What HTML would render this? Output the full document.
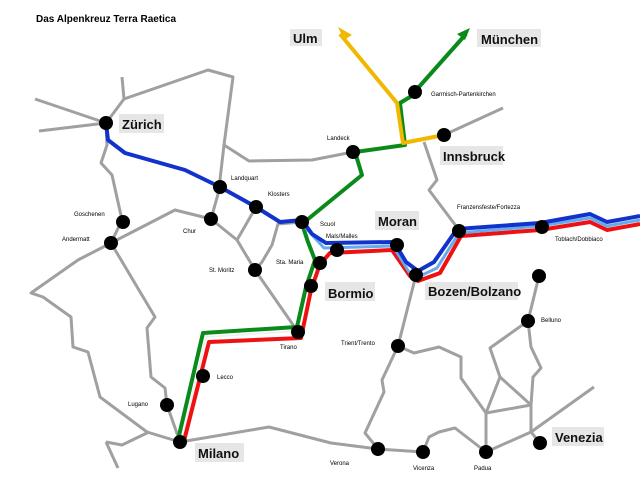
<!DOCTYPE html>
<html><head><meta charset="utf-8"><style>
html,body{margin:0;padding:0;background:#fff;}
svg{display:block;}
text{font-family:"Liberation Sans",sans-serif;}
.s{font-size:6px;fill:#000;}
.b{font-size:13px;font-weight:bold;fill:#111;}
</style></head><body>
<svg width="640" height="480" viewBox="0 0 640 480" xmlns="http://www.w3.org/2000/svg">
<rect width="640" height="480" fill="#fff"/>
<text x="36" y="22" style="font-size:10px;font-weight:bold">Das Alpenkreuz Terra Raetica</text>
<g fill="none" stroke="#a0a0a0" stroke-width="3" stroke-linejoin="round">
<polyline points="35,99 106,123 39,131"/>
<polyline points="106,123 124,99 122,77"/>
<polyline points="124,99 208,70 233,77 224,145 219,188"/>
<polyline points="224,145 249,161 312,160 353,152"/>
<polyline points="106,123 107,145 101,163 112,175 122,220 111,243"/>
<polyline points="111,243 175,210 211,219 220,187"/>
<polyline points="211,219 237,240 255,270 298,332"/>
<polyline points="256,207 237,240"/>
<polyline points="302,222 278,224 272,245 262,262 255,270"/>
<polyline points="111,243 78,260 31,293 43,297 71,317 73,347 88,352 100,397 147,432 180,442"/>
<polyline points="106,442 122,445 149,432"/>
<polyline points="106,442 118,468"/>
<polyline points="111,243 155,317 147,328 151,377 165,388 167,405 180,442"/>
<polyline points="180,442 269,427 331,443 378,449 423,452 429,437 439,432 455,428 486,452"/>
<polyline points="378,449 365,433 384,392 382,380 398,346 416,275"/>
<polyline points="398,346 414,353 439,347 461,357 461,378 486,413 486,452"/>
<polyline points="486,413 531,405 500,377 486,413"/>
<polyline points="500,377 490,348 528,321 539,276"/>
<polyline points="528,321 531,347 541,368 533,377 531,405 531,432 594,387"/>
<polyline points="486,452 531,432 540,443"/>
<polyline points="444,135 503,108"/>
<polyline points="424,142 437,180 429,190 459,230"/>
</g>
<g fill="none" stroke-width="4" stroke-linejoin="round">
<polyline stroke="#0a8a1a" points="178,440 203,333 297,327 306,287 315,260 308,242 302,224 362,175 355,152 405,145 400,103 410,97 466,34"/>
<polyline stroke="#f0f0f0" stroke-width="2" points="182,440 206,337 299,331"/>
<polyline stroke="#f0b800" points="340,34 397,103 403,143 444,135"/>
<polyline stroke="#ee1111" points="184,441 209,342 301,338 311,290 320,264 330,253 392,250 410,276 418,281 440,273 461,236 540,230 590,222 607,230 640,224"/>
<polyline stroke="#66aaee" stroke-width="3" points="304,226 324,248 393,246 409,272 418,277 437,268 459,233 540,226 590,218 607,226 640,220"/>
<polyline stroke="#1133cc" points="106,123 108,140 125,153 185,170 220,187 256,207 280,222 302,220 312,234 326,243 394,242 406,262 418,271 434,262 457,229 540,223 590,214 607,222 640,216"/>
</g>
<polygon points="338,27 352,35 344,40" fill="#f0b800"/>
<polygon points="470,28 457,34 465,40" fill="#0a8a1a"/>
<g fill="#000">
<circle cx="106" cy="123" r="7"/><circle cx="220" cy="187" r="7"/><circle cx="256" cy="207" r="7"/>
<circle cx="302" cy="222" r="7"/><circle cx="353" cy="152" r="7"/><circle cx="415" cy="92" r="7"/>
<circle cx="444" cy="135" r="7"/><circle cx="211" cy="219" r="7"/><circle cx="123" cy="222" r="7"/>
<circle cx="111" cy="243" r="7"/><circle cx="337" cy="250" r="7"/><circle cx="397" cy="245" r="7"/>
<circle cx="255" cy="270" r="7"/><circle cx="320" cy="263" r="7"/><circle cx="311" cy="286" r="7"/>
<circle cx="298" cy="332" r="7"/><circle cx="203" cy="376" r="7"/><circle cx="167" cy="405" r="7"/>
<circle cx="180" cy="442" r="7"/><circle cx="459" cy="231" r="7"/><circle cx="542" cy="227" r="7"/>
<circle cx="416" cy="275" r="7"/><circle cx="539" cy="276" r="7"/><circle cx="528" cy="321" r="7"/>
<circle cx="398" cy="346" r="7"/><circle cx="378" cy="449" r="7"/><circle cx="423" cy="452" r="7"/>
<circle cx="486" cy="452" r="7"/><circle cx="540" cy="443" r="7"/>
</g>
<g fill="#e6e6e6">
<rect x="290" y="29" width="32" height="17"/><rect x="477" y="29" width="64" height="18"/>
<rect x="119" y="114" width="45" height="19"/><rect x="440" y="146" width="63" height="19"/>
<rect x="375" y="211" width="44" height="19"/><rect x="325" y="282" width="50" height="19"/>
<rect x="425" y="282" width="93" height="18"/><rect x="552" y="427" width="52" height="19"/>
<rect x="195" y="443" width="49" height="19"/>
</g>
<text class="b" x="293" y="43">Ulm</text><text class="b" x="481" y="44">München</text>
<text class="b" x="122" y="129">Zürich</text><text class="b" x="443" y="161">Innsbruck</text>
<text class="b" x="378" y="226">Moran</text><text class="b" x="328" y="298">Bormio</text>
<text class="b" x="428" y="296">Bozen/Bolzano</text><text class="b" x="555" y="442">Venezia</text>
<text class="b" x="198" y="458">Milano</text>
<text class="s" x="431" y="96">Garmisch-Partenkirchen</text>
<text class="s" x="327" y="140">Landeck</text>
<text class="s" x="231" y="180">Landquart</text>
<text class="s" x="268" y="196">Klosters</text>
<text class="s" x="320" y="226">Scuol</text>
<text class="s" x="326" y="238">Mals/Malles</text>
<text class="s" x="74" y="216">Goschenen</text>
<text class="s" x="62" y="241">Andermatt</text>
<text class="s" x="183" y="233">Chur</text>
<text class="s" x="209" y="272">St. Moritz</text>
<text class="s" x="276" y="264">Sta. Maria</text>
<text class="s" x="280" y="349">Tirano</text>
<text class="s" x="217" y="379">Lecco</text>
<text class="s" x="128" y="406">Lugano</text>
<text class="s" x="330" y="465">Verona</text>
<text class="s" x="413" y="470">Vicenza</text>
<text class="s" x="474" y="470">Padua</text>
<text class="s" x="341" y="345">Trient/Trento</text>
<text class="s" x="541" y="322">Belluno</text>
<text class="s" x="457" y="209">Franzensfeste/Fortezza</text>
<text class="s" x="555" y="241">Toblach/Dobbiaco</text>
</svg>
</body></html>
